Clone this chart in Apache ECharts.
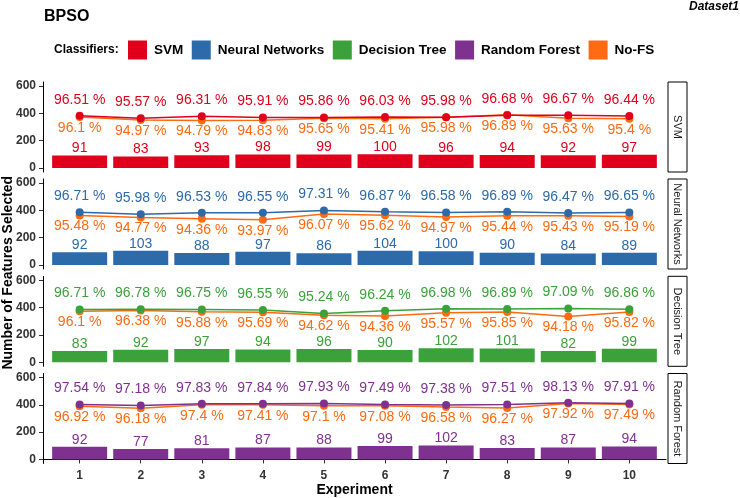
<!DOCTYPE html>
<html>
<head>
<meta charset="utf-8">
<script src="https://cdn.jsdelivr.net/npm/echarts@6/dist/echarts.min.js"></script>
<style>
  html, body { margin: 0; padding: 0; background: #fff; }
  #main { width: 740px; height: 498px; }
</style>
</head>
<body>
<div id="main"></div>
<script>
// experiments on the x axis
let experiments = [1, 2, 3, 4, 5, 6, 7, 8, 9, 10];
let classifiers = ['SVM', 'Neural Networks', 'Decision Tree', 'Random Forest'];

// number of features selected (bars)
let svmFeat = [91, 83, 93, 98, 99, 100, 96, 94, 92, 97];
let nnFeat  = [92, 103, 88, 97, 86, 104, 100, 90, 84, 89];
let dtFeat  = [83, 92, 97, 94, 96, 90, 102, 101, 82, 99];
let rfFeat  = [92, 77, 81, 87, 88, 99, 102, 83, 87, 94];

// accuracy with BPSO feature selection
let svmAcc = [96.51, 95.57, 96.31, 95.91, 95.86, 96.03, 95.98, 96.68, 96.67, 96.44];
let nnAcc  = [96.71, 95.98, 96.53, 96.55, 97.31, 96.87, 96.58, 96.89, 96.47, 96.65];
let dtAcc  = [96.71, 96.78, 96.75, 96.55, 95.24, 96.24, 96.98, 96.89, 97.09, 96.86];
let rfAcc  = [97.54, 97.18, 97.83, 97.84, 97.93, 97.49, 97.38, 97.51, 98.13, 97.91];

// accuracy without feature selection
let svmNoFS = [96.1, 94.97, 94.79, 94.83, 95.65, 95.41, 95.98, 96.89, 95.63, 95.4];
let nnNoFS  = [95.48, 94.77, 94.36, 93.97, 96.07, 95.62, 94.97, 95.44, 95.43, 95.19];
let dtNoFS  = [96.1, 96.38, 95.88, 95.69, 94.62, 94.36, 95.57, 95.85, 94.18, 95.82];
let rfNoFS  = [96.92, 96.18, 97.4, 97.41, 97.1, 97.08, 96.58, 96.27, 97.92, 97.49];

let yTicks = [0, 200, 400, 600];

let feats = [svmFeat, nnFeat, dtFeat, rfFeat];
let accs = [svmAcc, nnAcc, dtAcc, rfAcc];
let noFS = [svmNoFS, nnNoFS, dtNoFS, rfNoFS];
let colors = ['#E0001B', '#2C6AAA', '#3BA13A', '#7F3190'];
let noFSColor = '#FF6A12';

let panelTop = [82, 179, 276.3, 373.5];
let panelH = 90;
let font = '"Liberation Sans", Arial, sans-serif';

let grids = [], xAxes = [], yAxes = [], series = [], graphics = [];

function pairs(vals) {
    return vals.map(function (v, i) { return [experiments[i], v]; });
}

for (let i = 0; i < 4; i++) {
    let last = i === 3;
    grids.push({ left: 43, width: 623, top: panelTop[i], height: panelH, outerBoundsMode: 'none', containLabel: false });
    xAxes.push({
        type: 'value', gridIndex: i, min: 0.4, max: 10.6,
        show: last,
        splitLine: { show: false },
        axisLine: { show: true, lineStyle: { color: '#000', width: 1 } },
        axisTick: { show: true, length: 4, customValues: experiments, lineStyle: { color: '#333' } },
        axisLabel: { customValues: experiments, margin: 6, color: '#333', fontWeight: 'bold', fontSize: 12, fontFamily: font }
    });
    yAxes.push({
        type: 'value', gridIndex: i, min: -30, max: 630,
        splitLine: { show: false },
        axisLine: { show: true, lineStyle: { color: '#000', width: 1 } },
        axisTick: { show: true, length: 4, customValues: yTicks, lineStyle: { color: '#333' } },
        axisLabel: { customValues: yTicks, margin: 7, color: '#333', fontWeight: 'bold', fontSize: 12, fontFamily: font }
    });
    // hidden scale for accuracy lines
    yAxes.push({ type: 'value', gridIndex: i, min: 75.9, max: 108.9, show: false, splitLine: { show: false } });

    series.push({
        name: classifiers[i], type: 'bar', xAxisIndex: i, yAxisIndex: 2 * i,
        barWidth: 55, data: pairs(feats[i]),
        itemStyle: { color: colors[i] },
        label: { show: true, position: 'top', distance: 0, color: colors[i], fontSize: 14, fontFamily: font,
                 formatter: function (p) { return p.value[1]; } }
    });
    series.push({
        name: 'No-FS', type: 'line', xAxisIndex: i, yAxisIndex: 2 * i + 1,
        data: pairs(noFS[i]), symbol: 'circle', symbolSize: 8,
        lineStyle: { color: noFSColor, width: 1.5 }, itemStyle: { color: noFSColor },
        label: { show: true, position: 'bottom', distance: 0, color: noFSColor, fontSize: 14, fontFamily: font,
                 formatter: function (p) { return p.value[1] + ' %'; } }
    });
    series.push({
        name: classifiers[i], type: 'line', xAxisIndex: i, yAxisIndex: 2 * i + 1,
        data: pairs(accs[i]), symbol: 'circle', symbolSize: 8,
        lineStyle: { color: colors[i], width: 1.5 }, itemStyle: { color: colors[i] },
        label: { show: true, position: 'top', distance: 5, color: colors[i], fontSize: 14, fontFamily: font,
                 formatter: function (p) { return p.value[1] + ' %'; } }
    });

    // facet strip on the right
    graphics.push({
        type: 'rect', shape: { x: 668, y: panelTop[i], width: 19, height: panelH },
        style: { fill: '#fff', stroke: '#000', lineWidth: 1 }
    });
    graphics.push({
        type: 'text', x: 677.5, y: panelTop[i] + panelH / 2, rotation: -Math.PI / 2,
        style: { text: classifiers[i], fill: '#1a1a1a', font: '11px ' + font, align: 'center', verticalAlign: 'middle' }
    });
}

// axis titles
graphics.push({
    type: 'text', x: 8, y: 272.7, rotation: Math.PI / 2,
    style: { text: 'Number of Features Selected', fill: '#000', font: 'bold 14px ' + font, align: 'center', verticalAlign: 'middle' }
});
graphics.push({
    type: 'text', x: 354.5, y: 490.5,
    style: { text: 'Experiment', fill: '#000', font: 'bold 14px ' + font, align: 'center', verticalAlign: 'middle' }
});

let myChart = echarts.init(document.getElementById('main'));
let option = {
    animation: false,
    title: [
        { text: 'BPSO', left: 44, top: 9, padding: 0,
          textStyle: { fontSize: 16, fontWeight: 'bold', color: '#000', fontFamily: font } },
        { text: 'Dataset1', right: 1, top: 1, padding: 0,
          textStyle: { fontSize: 12, fontWeight: 'bold', fontStyle: 'italic', color: '#000', fontFamily: font } },
        { text: 'Classifiers:', left: 54, top: 44, padding: 0,
          textStyle: { fontSize: 12, fontWeight: 'bold', color: '#000', fontFamily: font } }
    ],
    legend: {
        left: 128, top: 40.5, padding: 0, itemGap: 8.5,
        itemWidth: 19, itemHeight: 19, icon: 'rect', selectedMode: false,
        data: [
            { name: 'SVM', itemStyle: { color: colors[0] } },
            { name: 'Neural Networks', itemStyle: { color: colors[1] } },
            { name: 'Decision Tree', itemStyle: { color: colors[2] } },
            { name: 'Random Forest', itemStyle: { color: colors[3] } },
            { name: 'No-FS', itemStyle: { color: noFSColor } }
        ],
        textStyle: { fontSize: 13.5, fontWeight: 'bold', color: '#000', fontFamily: font, padding: [0, 0, 0, 2] }
    },
    grid: grids,
    xAxis: xAxes,
    yAxis: yAxes,
    series: series,
    graphic: graphics
};
myChart.setOption(option);
</script>
</body>
</html>
